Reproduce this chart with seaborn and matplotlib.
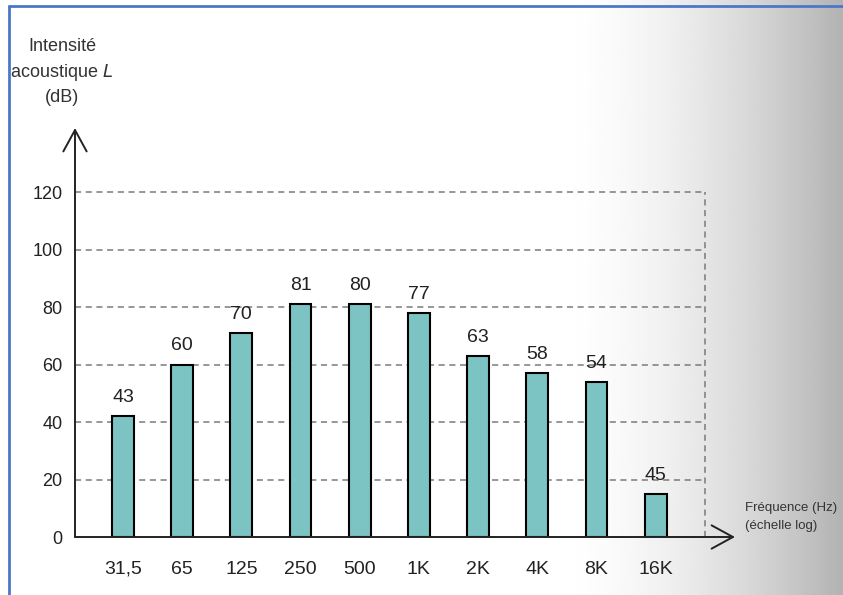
import numpy as np
import pandas as pd
import seaborn as sns
import matplotlib.pyplot as plt
from matplotlib.lines import Line2D

# values
frequencies = ["31,5", "65", "125", "250", "500", "1K", "2K", "4K", "8K", "16K"]
bar_heights = [42, 60, 71, 81, 81, 78, 63, 57, 54, 15]
bar_labels = ["43", "60", "70", "81", "80", "77", "63", "58", "54", "45"]
y_ticks = [0, 20, 40, 60, 80, 100, 120]

BAR_COLOR = "#7cc3c3"
GRID_COLOR = "#7a7a7a"

sns.set_theme(style="white")
plt.rcParams["font.family"] = ["Liberation Sans", "DejaVu Sans"]

df = pd.DataFrame({"freq": frequencies, "level": bar_heights})

fig = plt.figure(figsize=(8.43, 5.95), dpi=100)

# scanned page shading on the right (smooth ramp)
bg = fig.add_axes([0, 0, 1, 1], zorder=-10)
xs = np.linspace(0, 1, 400)
ramp = np.clip((xs - 0.66) / 0.34, 0, 1)
grad = np.tile(1 - 0.3 * ramp ** 1.7, (10, 1))
bg.imshow(grad, cmap="gray", vmin=0, vmax=1, aspect="auto", extent=[0, 1, 0, 1])
bg.set_axis_off()

ax = fig.add_axes([75 / 843, 58 / 595, 660 / 843, 409 / 595])
ax.patch.set_alpha(0)

sns.barplot(data=df, x="freq", y="level", color=BAR_COLOR, width=0.37,
            edgecolor="black", linewidth=1.5, saturation=1, ax=ax, zorder=3)

x_left, x_right, x_grid = -0.81, 10.34, 9.83
ax.set_xlim(x_left, x_right)
ax.set_ylim(0, 142.3)

# dashed grid box
ax.hlines(y_ticks[1:], x_left, x_grid, colors=GRID_COLOR,
          linestyles=(0, (4, 3)), linewidth=1.1, zorder=1)
ax.vlines(x_grid, 0, 120, colors=GRID_COLOR, linestyles=(0, (4, 3)),
          linewidth=1.1, zorder=1)

# value labels over bars
for i, (h, lab) in enumerate(zip(bar_heights, bar_labels)):
    ax.text(i, h + 3.5, lab, ha="center", va="bottom", fontsize=14, color="#222222")

ax.set_yticks(y_ticks)
ax.set_yticklabels([str(v) for v in y_ticks], fontsize=13, color="#222222")
ax.set_xticklabels(frequencies, fontsize=14, color="#222222")
ax.tick_params(axis="y", length=0, pad=9)
ax.tick_params(axis="x", length=0, pad=17)
ax.set_xlabel("")
ax.set_ylabel("")

for s in ax.spines.values():
    s.set_visible(False)

# axes drawn as open arrows
arrow = dict(arrowstyle="->,head_length=1.1,head_width=0.6", color="#222222",
             linewidth=1.4, shrinkA=0, shrinkB=0, mutation_scale=14)
ax.annotate("", xy=(0, 1), xytext=(0, 0), xycoords="axes fraction",
            textcoords="axes fraction", arrowprops=arrow, annotation_clip=False)
ax.annotate("", xy=(1, 0), xytext=(0, 0), xycoords="axes fraction",
            textcoords="axes fraction", arrowprops=arrow, annotation_clip=False)

# axis titles
fig.text(62 / 843, 1 - 72 / 595, "Intensité\nacoustique $L$\n(dB)", ha="center",
         va="center", fontsize=13, linespacing=1.45, color="#333333")
fig.text(745 / 843, 1 - 517 / 595, "Fréquence (Hz)\n(échelle log)", ha="left",
         va="center", fontsize=9.5, linespacing=1.6, color="#333333")

# blue frame of the scan
fig.add_artist(Line2D([9 / 843, 9 / 843], [0, 1 - 6 / 595], color="#4a78c8",
                      linewidth=2, transform=fig.transFigure))
fig.add_artist(Line2D([9 / 843, 1], [1 - 6 / 595, 1 - 6 / 595], color="#4a78c8",
                      linewidth=2, transform=fig.transFigure))

fig.savefig("out.png", dpi=100)
